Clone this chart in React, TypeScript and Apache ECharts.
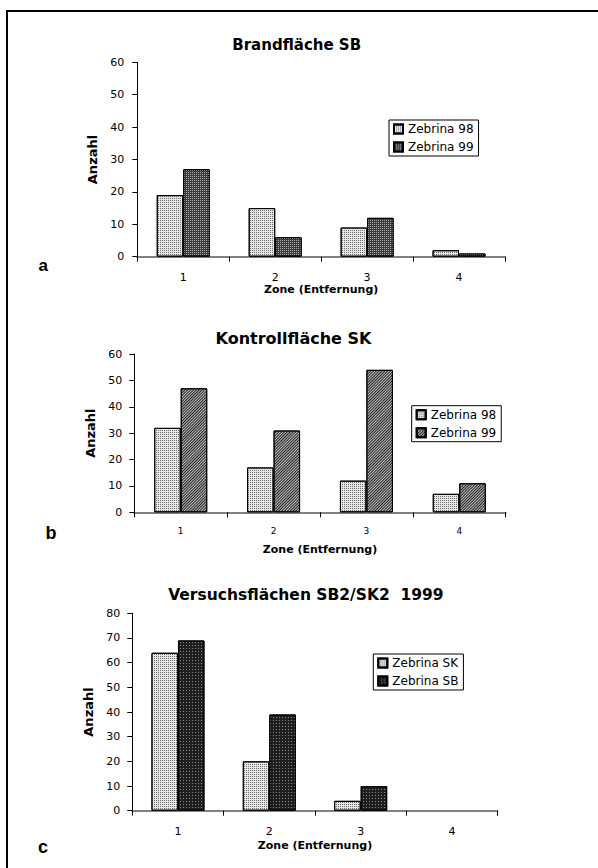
import React, { useEffect, useRef } from "react";
import * as echarts from "echarts";

// ---- data ----
const zones = ["1", "2", "3", "4"];
const panelTitles = ["Brandfläche SB", "Kontrollfläche SK", "Versuchsflächen SB2/SK2  1999"];
const panelLetters = ["a", "b", "c"];
const yMaxes = [60, 60, 80];
const yIntervals = [10, 10, 10];
const xAxisName = "Zone (Entfernung)";
const yAxisName = "Anzahl";

const seriesNamesA = ["Zebrina 98", "Zebrina 99"];
const brand98 = [19, 15, 9, 2];
const brand99 = [27, 6, 12, 1];

const seriesNamesB = ["Zebrina 98", "Zebrina 99"];
const kontroll98 = [32, 17, 12, 7];
const kontroll99 = [47, 31, 54, 11];

const seriesNamesC = ["Zebrina SK", "Zebrina SB"];
const versuchSK = [64, 20, 4, 0];
const versuchSB = [69, 39, 10, 0];

// ---- styles ----
const lightDots = {
  color: "#e6e6e6",
  borderColor: "#000",
  borderWidth: 1,
  decal: { symbol: "rect", symbolSize: 1, dashArrayX: [1, 1], dashArrayY: [1, 1], color: "#6e6e6e" },
};
const darkDots = {
  color: "#3c3c3c",
  borderColor: "#000",
  borderWidth: 1,
  decal: { symbol: "rect", symbolSize: 1, dashArrayX: [1, 1], dashArrayY: [1, 1], color: "#a8a8a8" },
};
const hatched = {
  color: "#bdbdbd",
  borderColor: "#000",
  borderWidth: 1,
  decal: { symbol: "rect", symbolSize: 1, dashArrayX: [1, 0], dashArrayY: [1, 1], rotation: -Math.PI / 4, color: "#222222" },
};
const blackDots = {
  color: "#1e1e1e",
  borderColor: "#000",
  borderWidth: 1,
  decal: { symbol: "rect", symbolSize: 1, dashArrayX: [1, 2], dashArrayY: [1, 2], color: "#8a8a8a" },
};

const panels = [
  {
    grid: { left: 137.3, top: 62.3, width: 367.7, height: 194.4 },
    names: seriesNamesA, values: [brand98, brand99], styles: [lightDots, darkDots],
    legend: { left: 389, top: 120 },
    title: { x: 296.7, y: 45, size: 15 },
    letter: { x: 43.3, y: 265, size: 17 },
    yLabelMargin: 13, yNameGap: 30, xLabelMargin: 15, xLabelSize: 11, xNameGap: 27,
  },
  {
    grid: { left: 134.3, top: 354, width: 371.4, height: 158.3 },
    names: seriesNamesB, values: [kontroll98, kontroll99], styles: [lightDots, hatched],
    legend: { left: 411.7, top: 405.7 },
    title: { x: 293.5, y: 338.3, size: 16 },
    letter: { x: 51, y: 533.3, size: 18 },
    yLabelMargin: 12, yNameGap: 32, xLabelMargin: 14, xLabelSize: 9, xNameGap: 32,
  },
  {
    grid: { left: 132.3, top: 613.3, width: 365.4, height: 197.4 },
    names: seriesNamesC, values: [versuchSK, versuchSB], styles: [lightDots, blackDots],
    legend: { left: 373.3, top: 654 },
    title: { x: 305.9, y: 595, size: 15.5 },
    letter: { x: 43, y: 846.7, size: 18 },
    yLabelMargin: 12, yNameGap: 33, xLabelMargin: 15, xLabelSize: 11, xNameGap: 29,
  },
];

const tickFont = "DejaVu Sans";
const boldFont = "DejaVu Sans";

export default function App() {
  const ref = useRef<HTMLDivElement>(null);

  useEffect(() => {
    if (!ref.current) return;
    const chart = echarts.init(ref.current, null, { renderer: "svg" });

    const grids: any[] = [];
    const xAxes: any[] = [];
    const yAxes: any[] = [];
    const series: any[] = [];
    const legends: any[] = [];
    const graphics: any[] = [
      {
        type: "rect",
        shape: { x: 7, y: 11, width: 600, height: 870 },
        style: { fill: "none", stroke: "#000", lineWidth: 2 },
        silent: true,
      },
    ];

    panels.forEach((p, i) => {
      grids.push({ ...p.grid, containLabel: false });
      xAxes.push({
        gridIndex: i,
        type: "category",
        data: zones,
        boundaryGap: true,
        axisLine: { show: true, lineStyle: { color: "#808080", width: 2 } },
        axisTick: { show: true, alignWithLabel: false, length: 5, lineStyle: { color: "#000", width: 1 } },
        axisLabel: { margin: p.xLabelMargin, fontFamily: tickFont, fontSize: p.xLabelSize, color: "#000" },
        splitLine: { show: false },
        name: xAxisName,
        nameLocation: "middle",
        nameGap: p.xNameGap,
        nameTextStyle: { fontFamily: boldFont, fontWeight: "bold", fontSize: 11, color: "#000" },
      });
      yAxes.push({
        gridIndex: i,
        type: "value",
        min: 0,
        max: yMaxes[i],
        interval: yIntervals[i],
        axisLine: { show: true, lineStyle: { color: "#000", width: 1 } },
        axisTick: { show: true, length: 5, lineStyle: { color: "#000", width: 1 } },
        axisLabel: { margin: p.yLabelMargin, fontFamily: tickFont, fontSize: 11, color: "#000" },
        splitLine: { show: false },
        name: yAxisName,
        nameLocation: "middle",
        nameRotate: 90,
        nameGap: p.yNameGap,
        nameTextStyle: { fontFamily: boldFont, fontWeight: "bold", fontSize: 13, color: "#000" },
      });
      const ids: string[] = [];
      p.names.forEach((nm, k) => {
        const id = panelLetters[i] + ":" + nm;
        ids.push(id);
        series.push({
          name: id,
          type: "bar",
          xAxisIndex: i,
          yAxisIndex: i,
          barWidth: 26.5,
          barGap: "0%",
          data: p.values[k].map((v) => (v === 0 ? "-" : v)),
          itemStyle: p.styles[k],
          emphasis: { disabled: true },
        });
      });
      legends.push({
        orient: "vertical",
        left: p.legend.left,
        top: p.legend.top,
        data: ids,
        formatter: (n: string) => n.slice(n.indexOf(":") + 1),
        selectedMode: false,
        icon: "rect",
        itemWidth: 9,
        itemHeight: 9,
        itemGap: 6,
        padding: [3, 5, 3, 4],
        borderColor: "#000",
        borderWidth: 1,
        backgroundColor: "#fff",
        textStyle: { fontFamily: tickFont, fontSize: 12, color: "#000" },
      });
      graphics.push({
        type: "text",
        x: p.title.x,
        y: p.title.y,
        style: {
          text: panelTitles[i],
          align: "center",
          verticalAlign: "middle",
          fontFamily: boldFont,
          fontWeight: "bold",
          fontSize: p.title.size,
          fill: "#000",
        },
      });
      graphics.push({
        type: "text",
        x: p.letter.x,
        y: p.letter.y,
        style: {
          text: panelLetters[i],
          align: "center",
          verticalAlign: "middle",
          fontFamily: "Liberation Sans",
          fontWeight: "bold",
          fontSize: p.letter.size,
          fill: "#000",
        },
      });
    });

    chart.setOption({
      animation: false,
      backgroundColor: "#fff",
      grid: grids,
      xAxis: xAxes,
      yAxis: yAxes,
      series,
      legend: legends,
      graphic: graphics,
    });

    return () => chart.dispose();
  }, []);

  return (
    <div
      ref={ref}
      style={{ position: "fixed", left: 0, top: 0, width: 598, height: 868, background: "#fff" }}
    />
  );
}
